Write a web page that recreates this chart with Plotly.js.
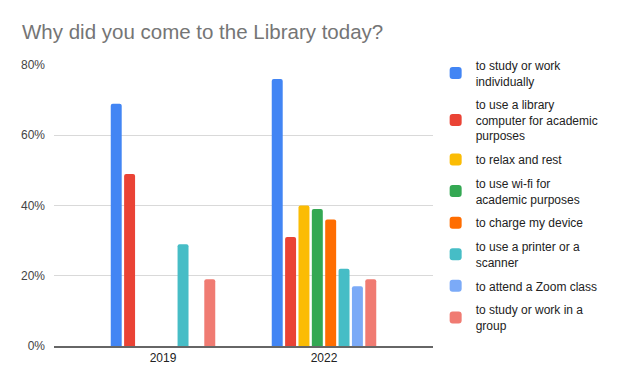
<!DOCTYPE html>
<html>
<head>
<meta charset="utf-8">
<script src="https://cdn.plot.ly/plotly-3.0.1.min.js"></script>
<style>html,body{margin:0;padding:0;background:#fff;}#chart{width:620px;height:372px;}</style>
</head>
<body>
<div id="chart"></div>
<script>
const years = ["2019", "2022"];
const seriesNames = [
  "to study or work<br>individually",
  "to use a library<br>computer for academic<br>purposes",
  "to relax and rest",
  "to use wi-fi for<br>academic purposes",
  "to charge my device",
  "to use a printer or a<br>scanner",
  "to attend a Zoom class",
  "to study or work in a<br>group"
];
const studyIndividually = [0.69, 0.76];
const libraryComputer = [0.49, 0.31];
const relaxRest = [null, 0.40];
const wifi = [null, 0.39];
const chargeDevice = [null, 0.36];
const printerScanner = [0.29, 0.22];
const zoomClass = [null, 0.17];
const studyGroup = [0.19, 0.19];
const colors = ["#4285F4", "#EA4335", "#FBBC04", "#34A853", "#FF6D01", "#46BDC6", "#7BAAF7", "#F07B72"];
const tickVals = [0, 0.2, 0.4, 0.6, 0.8];
const tickText = ["0%", "20%", "40%", "60%", "80%"];

const allValues = [studyIndividually, libraryComputer, relaxRest, wifi, chargeDevice, printerScanner, zoomClass, studyGroup];
const data = allValues.map((vals, i) => ({
  type: "bar",
  name: seriesNames[i],
  x: years,
  y: vals,
  legendgroup: "g" + i,
  marker: {color: colors[i], cornerradius: 2},
  hoverinfo: "none"
}));

const layout = {
  width: 620, height: 372,
  margin: {l: 54, r: 187, t: 65, b: 26, pad: 0},
  paper_bgcolor: "#fff", plot_bgcolor: "#fff",
  font: {family: "Liberation Sans, Arial, sans-serif", size: 12, color: "#222"},
  title: {
    text: "Why did you come to the Library today?",
    font: {size: 20.5, color: "#757575", family: "Liberation Sans, Arial, sans-serif"},
    xref: "container", x: 22/620, xanchor: "left",
    yref: "container", y: 1 - 32/372, yanchor: "middle"
  },
  barmode: "group",
  bargap: 0.336,
  bargroupgap: 0.18,
  xaxis: {
    type: "category",
    range: [-0.677, 1.677],
    showgrid: false,
    showline: true, linecolor: "#666", linewidth: 1.5,
    ticks: "", tickfont: {size: 12, color: "#222"},
    fixedrange: true
  },
  yaxis: {
    range: [0, 0.8],
    tickvals: tickVals, ticktext: tickText,
    gridcolor: "#d9d9d9", gridwidth: 1,
    zeroline: false, showline: false,
    ticks: "", ticklabelstandoff: 8,
    tickfont: {size: 12, color: "#444"},
    fixedrange: true
  },
  legend: {
    x: 1.007, xanchor: "left", y: 1.05, yanchor: "top",
    font: {size: 12, color: "#222"},
    tracegroupgap: 5,
    itemwidth: 30,
    maxheight: 360,
    bgcolor: "rgba(0,0,0,0)"
  },
  showlegend: true
};

Plotly.newPlot("chart", data, layout, {displayModeBar: false, staticPlot: true});
</script>
</body>
</html>
